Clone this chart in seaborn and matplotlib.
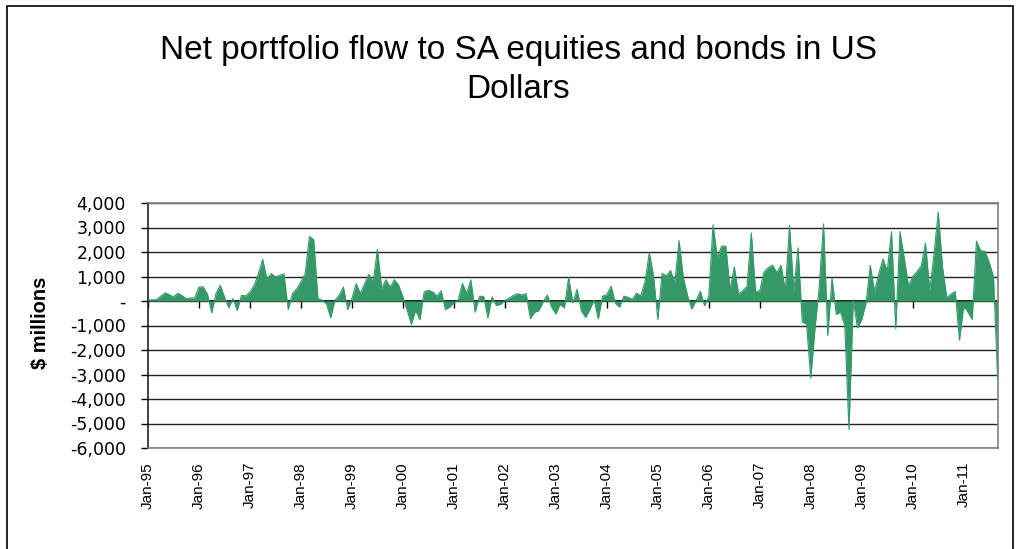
import numpy as np
import pandas as pd
import matplotlib
matplotlib.use("Agg")
import matplotlib.pyplot as plt
import seaborn as sns
from matplotlib.patches import Rectangle

# ---- data (US$ millions, monthly Jan-1995 .. Sep-2011) ----
flows_1995 = [40, 40, 55, 190, 330, 260, 165, 315, 220, 95, 125, 125]
flows_1996 = [575, 575, 275, -480, 300, 640, 165, -275, 95, -380, 230, 205]
flows_1997 = [370, 640, 1120, 1700, 875, 1120, 985, 1050, 1100, -350, 300, 500]
flows_1998 = [780, 1120, 2640, 2500, 100, 30, -110, -680, 30, 230, 570, -350]
flows_1999 = [100, 710, 300, 710, 1090, 780, 2100, 500, 870, 570, 870, 640]
flows_2000 = [160, -380, -950, -380, -760, 370, 440, 370, 190, 420, -350, -250]
flows_2001 = [-80, 20, 720, 310, 860, -460, 190, 190, -690, 170, -180, -140]
flows_2002 = [30, 120, 220, 300, 240, 300, -720, -460, -390, -40, 240, -250]
flows_2003 = [-530, -140, -280, 960, -80, 480, -400, -670, -350, 40, -730, 200]
flows_2004 = [260, 610, -90, -250, 200, 150, 70, 320, 210, 800, 1970, 1000]
flows_2005 = [-750, 1125, 1030, 1240, 750, 2460, 960, 220, -330, 20, 400, -190]
flows_2006 = [200, 3110, 1750, 2240, 2240, 460, 1390, 280, 420, 600, 2780, 380]
flows_2007 = [420, 1190, 1360, 1460, 1150, 1460, 420, 3080, 390, 2170, -860, -930]
flows_2008 = [-3150, -1100, 600, 3150, -1400, 940, -550, -450, -1000, -5250, 50, -1100]
flows_2009 = [-750, -100, 1450, 390, 1100, 1720, 1220, 2830, -1130, 2830, 1750, 620]
flows_2010 = [1000, 1200, 1430, 2360, 420, 1900, 3620, 1400, 140, 280, 390, -1600]
flows_2011 = [-200, -450, -750, 2440, 2050, 2030, 1570, 1000, -3200]

flows = (flows_1995 + flows_1996 + flows_1997 + flows_1998 + flows_1999 +
         flows_2000 + flows_2001 + flows_2002 + flows_2003 + flows_2004 +
         flows_2005 + flows_2006 + flows_2007 + flows_2008 + flows_2009 +
         flows_2010 + flows_2011)

x_tick_labels = ["Jan-95", "Jan-96", "Jan-97", "Jan-98", "Jan-99", "Jan-00",
                 "Jan-01", "Jan-02", "Jan-03", "Jan-04", "Jan-05", "Jan-06",
                 "Jan-07", "Jan-08", "Jan-09", "Jan-10", "Jan-11"]
y_tick_values = [4000, 3000, 2000, 1000, 0, -1000, -2000, -3000, -4000, -5000, -6000]
y_tick_labels = ["4,000", "3,000", "2,000", "1,000", "-", "-1,000", "-2,000",
                 "-3,000", "-4,000", "-5,000", "-6,000"]

title = "Net portfolio flow to SA equities and bonds in US\nDollars"
y_label = "$ millions"

# ---- figure ----
sns.set_theme(style="white")
plt.rcParams["font.family"] = ["Liberation Sans", "DejaVu Sans"]

GREEN = "#339966"
df = pd.DataFrame({"month": np.arange(len(flows)), "flow": flows})

fig = plt.figure(figsize=(10.18, 5.49), dpi=100)
ax = fig.add_axes([148 / 1018, 101 / 549, (997.7 - 148) / 1018, 245 / 549])

ax.fill_between(df["month"], df["flow"], 0, color=GREEN, lw=0, zorder=2)
sns.lineplot(data=df, x="month", y="flow", color=GREEN, lw=0.8, ax=ax, zorder=3)

ax.set_xlim(0, len(flows) - 1)
ax.set_ylim(-6000, 4000)

# y axis
ax.set_yticks(y_tick_values)
ax.set_yticklabels(y_tick_labels, fontsize=12.5, color="black",
                   family=["DejaVu Sans"])
ax.tick_params(axis="y", left=True, direction="out", length=5, width=1,
               color="black", pad=11)
ax.yaxis.grid(True, color="#222222", lw=1.0, zorder=1)
ax.set_axisbelow(True)

# x axis: labels at bottom, ticks at zero line
tick_pos = np.arange(0, len(flows), 12)
ax.set_xticks(tick_pos)
ax.set_xticklabels(x_tick_labels, rotation=90, fontsize=11, color="black")
ax.tick_params(axis="x", bottom=True, length=0, pad=10)
ax.set_xlabel("")
ax.set_ylabel("")

sec = ax.secondary_xaxis(0.6)
sec.set_alignment("bottom")
sec.set_xticks(tick_pos)
sec.set_xticklabels([])
sec.tick_params(axis="x", direction="out", length=5, width=1, color="black")
for s in sec.spines.values():
    s.set_color("black")
    s.set_linewidth(1.2)

for side in ["top", "right", "bottom"]:
    ax.spines[side].set_color("#808080")
    ax.spines[side].set_linewidth(1.2)
ax.spines["left"].set_color("#222222")
ax.spines["left"].set_linewidth(1.2)

fig.text(0.509, 1 - 70 / 549, title, ha="center", va="center", fontsize=24,
         linespacing=1.33, color="black")
fig.text(40 / 1018, 1 - 323 / 549, y_label, rotation=90, ha="center", va="center",
         fontsize=14.5, fontweight="bold", color="black")

fig.add_artist(Rectangle((7 / 1018, -0.05), (1013 - 7) / 1018, (549 - 6) / 549 + 0.05,
                         transform=fig.transFigure, fill=False, ec="black", lw=1.2))

fig.savefig("out.png", dpi=100, facecolor="white")
